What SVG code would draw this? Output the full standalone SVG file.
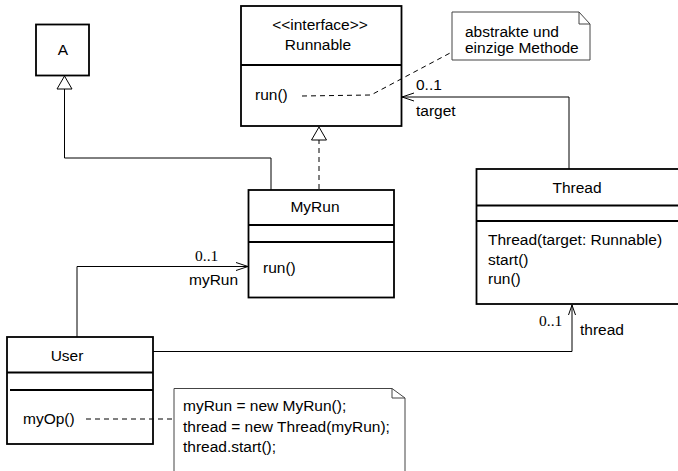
<svg xmlns="http://www.w3.org/2000/svg" width="678" height="471" viewBox="0 0 678 471">
<style>
  .box{fill:#fff;stroke:#000;stroke-width:1.8}
  .div{stroke:#000;stroke-width:1.8;fill:none}
  .note{fill:#fff;stroke:#444;stroke-width:1}
  .t{font-family:"Liberation Sans",Arial,sans-serif;font-size:15.5px;fill:#000}
  .s{font-family:"Liberation Serif","Times New Roman",serif;font-size:15.5px;fill:#000}
  .mid{text-anchor:middle}
  .ln{stroke:#000;stroke-width:1;fill:none}
  .dash{stroke:#000;stroke-width:1;fill:none;stroke-dasharray:5,4}
  .tri{fill:#fff;stroke:#000;stroke-width:1}
</style>
<g id="A">
  <rect class="box" x="36" y="24.5" width="53" height="51"/>
  <text class="t mid" x="63" y="55">A</text>
</g>
<g id="Runnable">
  <rect class="box" x="241" y="6" width="160.5" height="120"/>
  <line class="div" x1="241" y1="65" x2="401.5" y2="65"/>
  <text class="t mid" x="320" y="30">&lt;&lt;interface&gt;&gt;</text>
  <text class="t mid" x="318" y="50">Runnable</text>
  <text class="t" x="255" y="100">run()</text>
</g>
<g id="note1">
  <path class="note" d="M452,12 H579 L590,24 V60 H452 Z M579,12 V24 H590"/>
  <text class="t" x="465" y="37">abstrakte und</text>
  <text class="t" x="465" y="53">einzige Methode</text>
</g>
<g id="MyRun">
  <rect class="box" x="248.5" y="190" width="145.5" height="107.5"/>
  <line class="div" x1="248.5" y1="225" x2="394" y2="225"/>
  <line class="div" x1="248.5" y1="242" x2="394" y2="242"/>
  <text class="t mid" x="315" y="212">MyRun</text>
  <text class="t" x="263" y="273">run()</text>
</g>
<g id="Thread">
  <rect class="box" x="476.5" y="169" width="205" height="135"/>
  <line class="div" x1="476.5" y1="205.5" x2="681" y2="205.5"/>
  <line class="div" x1="476.5" y1="221" x2="681" y2="221"/>
  <text class="t mid" x="577" y="193">Thread</text>
  <text class="t" x="488" y="245">Thread(target: Runnable)</text>
  <text class="t" x="488" y="265">start()</text>
  <text class="t" x="488" y="284">run()</text>
</g>
<g id="User">
  <rect class="box" x="7" y="337" width="146" height="107"/>
  <line class="div" x1="7" y1="372.5" x2="153" y2="372.5"/>
  <line class="div" x1="10" y1="390" x2="153" y2="390"/>
  <text class="t mid" x="67" y="361">User</text>
  <text class="t" x="23" y="424">myOp()</text>
</g>
<g id="note2">
  <path class="note" d="M174,480 V388.5 H392 L405,398 V480 M392,388.5 V398 H405"/>
  <text class="t" x="183" y="411">myRun = new MyRun();</text>
  <text class="t" x="183" y="432">thread = new Thread(myRun);</text>
  <text class="t" x="183" y="452">thread.start();</text>
</g>
<g id="connectors">
  <polyline class="ln" points="271,190 271,158 64.5,158 64.5,89"/>
  <polygon class="tri" points="64.5,76 57,89 72,89"/>
  <line class="dash" x1="319" y1="189" x2="319" y2="140"/>
  <polygon class="tri" points="319,127 311.5,140 326.5,140"/>
  <polyline class="ln" points="569,169 569,97 402,97"/>
  <polyline class="ln" points="414,93 402,97 414,101"/>
  <text class="t" x="416" y="90">0..1</text>
  <text class="t" x="416" y="116">target</text>
  <polyline class="ln" points="77,337 77,266.5 248,266.5"/>
  <polyline class="ln" points="236,262.5 248,266.5 236,270.5"/>
  <text class="s" x="195" y="261">0..1</text>
  <text class="t" x="189" y="285">myRun</text>
  <polyline class="ln" points="153,351.5 572,351.5 572,305"/>
  <polyline class="ln" points="568.5,315 572,305 575.5,315"/>
  <text class="s" x="539" y="326">0..1</text>
  <text class="t" x="580" y="335">thread</text>
  <polyline class="dash" points="302,96 371,95 452,52"/>
  <line class="dash" x1="86" y1="419" x2="174" y2="419"/>
</g>
</svg>
